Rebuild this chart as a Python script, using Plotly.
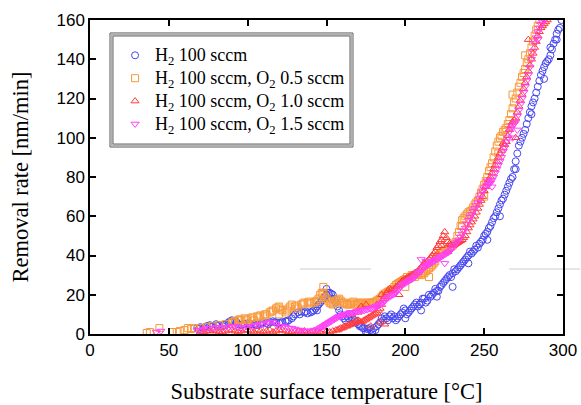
import plotly.graph_objects as go

# ---- data ----
blue_x = [68, 70, 72, 74, 76, 78, 80, 82, 84, 86, 88, 90, 92, 94, 96, 98, 100, 102, 104, 106, 108,
          110, 112, 114, 116, 118, 120, 122, 124, 126, 128, 130, 132, 134, 136, 138, 140, 142, 144,
          146, 148, 150, 152, 154, 156, 158, 160, 162, 164, 166, 168, 170, 172, 174, 176, 178, 180,
          182, 184, 186, 188, 190, 192, 194, 196, 198, 200, 202, 204, 206, 208, 210, 212, 214, 216,
          218, 220, 222, 224, 226, 228, 230, 232, 234, 236, 238, 240, 242, 244, 246, 248, 250, 252,
          254, 256, 258, 260, 262, 264, 266, 268, 270, 272, 274, 276, 278, 280, 282, 284, 286, 288,
          290, 292, 294, 296, 298, 299,
          176, 179, 230, 240, 252, 260, 270, 280, 288, 292, 296, 165, 150, 153, 144, 210, 200, 220,
          69, 73, 77, 81, 85, 89, 93, 97, 101, 105, 109, 113, 117, 121, 125, 129, 133, 137, 141,
          143, 145, 147, 149, 151, 153, 155, 157, 159,
          161, 163, 167, 169, 171, 173, 175, 177, 181, 183, 185, 187, 189, 191, 193, 195, 197, 199,
          201, 203, 205, 207, 209, 211, 213, 215, 217, 219, 221, 223, 225, 227, 229, 231, 233, 235,
          237, 239, 241, 243, 245, 247, 249, 251, 253, 255, 257, 259, 261, 263, 265, 267, 269, 271,
          273, 275, 277, 279, 281, 283, 285, 287, 289, 291, 293, 295, 297]
blue_y = [3, 3.5, 3, 4, 4.5, 4, 5, 4.5, 4, 5, 6, 7, 6.5, 5, 4.5, 5, 5.5, 5, 5, 4.5, 5,
          6, 5.5, 6, 6.5, 6, 5.5, 6, 6.5, 7, 8, 10, 11, 11.5, 11, 10.5, 11, 12, 14,
          16, 18, 20, 21, 20, 16, 12, 9, 7, 8, 8.5, 7, 5, 4, 3, 2.5, 2, 3,
          4, 6, 7, 8, 9, 8, 7, 9, 11, 12, 11, 13, 15, 14, 16, 18, 17, 19,
          21, 22, 24, 26, 28, 30, 31, 32, 34, 36, 38, 40, 41, 43, 44, 47, 50, 52,
          55, 59, 62, 66, 69, 73, 77, 80, 88, 96, 100, 104, 110, 116, 120, 126, 132, 136,
          139, 142, 148, 153, 156, 160,
          0.5, 1, 24, 36, 48, 60, 84, 112, 130, 146, 150, 10, 23, 18, 12, 12, 8, 19,
          2.5, 3.5, 3.5, 4, 4.5, 6.5, 6, 5, 5, 4.5, 5.5, 5, 6, 6, 6.5, 9, 10, 11.5, 11.5,
          13, 15, 17, 19, 21, 20.5, 18, 14, 10,
          8, 9, 6, 6, 4, 3, 1, 3, 2, 5, 8, 9, 7, 10, 9, 8, 10, 13,
          10, 12, 14, 16, 15, 18, 16, 20, 20, 23, 22, 25, 27, 29, 29, 33, 33, 35,
          37, 39, 42, 42, 45, 46, 48, 51, 54, 57, 60, 64, 68, 71, 75, 79, 84, 92,
          98, 102, 107, 113, 118, 123, 129, 134, 138, 140, 145, 150, 155]

orange_x = [36, 38, 44, 52, 55, 57, 60, 62, 64, 66, 70, 74, 78, 82, 86, 90, 92, 94, 96, 98, 100,
            102, 104, 106, 108, 110, 112, 114, 116, 118, 120, 122, 124, 126, 128, 130, 132, 134,
            136, 138, 140, 142, 144, 146, 148, 150, 152, 154, 156, 158, 160, 162, 164, 166, 168,
            170, 172, 174, 176, 178, 180, 182, 184, 186, 188, 190, 192, 194, 196, 198, 200, 202,
            204, 206, 208, 210, 212, 214, 216, 218, 220, 222, 224, 226, 228, 230, 232, 234, 236,
            238, 240, 242, 244, 246, 248, 250, 252, 254, 256, 258, 260, 262, 264, 266, 268, 270,
            272, 274, 276, 278, 280, 282, 284, 285,
            148, 120, 200, 215, 236, 250, 259, 268, 276,
            91, 95, 99, 103, 107, 111, 115, 119, 121, 125, 127, 131, 135, 139, 143, 145, 147, 149,
            151, 153, 155, 157, 159, 161, 163, 165, 167, 169, 171, 173, 175, 177, 179, 181, 183,
            185, 187, 189, 191, 193, 195, 197, 199, 201, 203, 205, 207, 209, 211, 213, 215, 217,
            219, 221, 223, 225, 227, 229, 231, 233, 235, 237, 239, 241, 243, 245, 247, 249, 251,
            253, 255, 257, 259, 261, 263, 265, 267, 269, 271, 273, 275, 277, 279, 281, 283]
orange_y = [0.5, 1, 3, 1, 1, 1.5, 2, 3, 2.5, 3, 3, 3.5, 4, 4.5, 5, 6, 6.5, 7, 7, 8, 7.5,
            8, 7, 9, 9.5, 9, 10, 11, 12, 13, 14, 12, 11, 13, 15, 14, 13, 15,
            16, 16, 15.5, 16, 17, 20, 21, 18, 16, 15, 17, 18, 16, 15.5, 15, 16, 15,
            15.5, 16, 15, 16, 15.5, 16, 17, 18, 20, 21, 22, 23, 25, 26, 27, 28, 28,
            30, 29, 31, 30, 31, 33, 34, 36, 39, 41, 42, 43, 44, 45, 47, 52, 58,
            60, 62, 63, 66, 68, 72, 76, 80, 85, 90, 96, 100, 103, 105, 109, 115, 120,
            126, 131, 135, 140, 146, 152, 157, 160,
            24, 10, 24, 29, 55, 70, 92, 122, 142,
            6, 7.5, 7, 8.5, 8.5, 10, 11.5, 13.5, 12.5, 12, 14, 14.5, 15.5, 16.5, 16.5, 18, 21, 19,
            17, 15.5, 16, 17.5, 17, 16, 15, 15.5, 16.5, 15, 16, 15.5, 15.5, 16, 16, 16.5, 17.5,
            19, 20.5, 21.5, 22.5, 24, 25.5, 26.5, 27.5, 29, 29, 30, 30, 30.5, 31, 32, 33.5, 35,
            37, 40, 41.5, 42.5, 43.5, 44.5, 46, 50, 55, 59, 61, 62.5, 64.5, 67, 70, 74, 78,
            83, 87, 93, 98, 101, 104, 107, 112, 118, 123, 128, 133, 138, 143, 149, 155]

red_x = [70, 74, 78, 82, 86, 90, 94, 98, 102, 106, 110, 114, 118, 122, 126, 130, 134, 138, 142,
         146, 148, 150, 152, 154, 156, 158, 160, 162, 164, 166, 168, 170, 172, 174, 176, 178, 180,
         182, 184, 186, 188, 190, 192, 194, 196, 198, 200, 202, 204, 206, 208, 210, 212, 214, 216,
         218, 220, 222, 224, 225, 226, 228, 230, 232, 234, 236, 238, 240, 242, 244, 246, 248, 250,
         252, 254, 256, 258, 260, 262, 264, 266, 268, 270, 272, 274, 276, 278, 280, 282, 284, 286,
         288, 290,
         172, 175, 182, 185, 166, 170, 178, 184, 187, 196, 223, 227, 262, 270, 278,
         72, 76, 80, 84, 88, 92, 96, 100, 104, 108, 112, 116, 120, 124, 128, 132, 136, 140, 144,
         157, 159, 161, 163, 165, 167, 169, 171, 173, 175, 177, 179, 181, 183, 185, 187, 189, 191,
         193, 195, 197, 199, 201, 203, 205, 207, 209, 211, 213, 215, 217, 219, 221, 223, 227, 229,
         231, 233, 235, 237, 239, 241, 243, 245, 247, 249, 251, 253, 255, 257, 259, 261, 263, 265,
         267, 269, 271, 273, 275, 277, 279, 281, 283, 285, 287, 289]
red_y = [1, 1.5, 2, 1, 1.5, 2, 1, 2, 1.5, 2, 1, 2, 1.5, 2, 1, 1.5, 1, 1, 1.5,
         1, 2, 1.5, 1, 1.5, 2, 2.5, 3, 4, 4.5, 5, 6, 7, 6, 7, 8, 9, 10,
         11, 13, 18, 21, 23, 22, 24, 25, 27, 28, 29, 30, 31, 32, 34, 36, 37, 39,
         41, 44, 47, 50, 52, 49, 46, 45, 46, 47, 48, 50, 54, 57, 60, 64, 68, 73,
         77, 80, 84, 88, 92, 95, 98, 104, 108, 110, 116, 122, 128, 134, 140, 146, 152, 156,
         158, 160,
         14, 15, 15, 20, 10, 11, 4, 6, 5, 20, 45, 42, 97, 100, 150,
         1, 1.5, 1.5, 1, 2, 1.5, 1.5, 2, 1, 1.5, 1.5, 1, 2, 1.5, 1, 1.5, 1.5, 1, 1,
         2, 3, 3.5, 4, 5, 5.5, 6.5, 6.5, 6.5, 7.5, 8.5, 9.5, 10.5, 12, 15, 19, 22, 22.5,
         23, 24.5, 26, 27.5, 28.5, 29.5, 30.5, 31.5, 33, 35, 36.5, 38, 40, 42, 45, 48, 47, 45.5,
         45.5, 46.5, 47.5, 49, 52, 55.5, 58.5, 62, 66, 70, 75, 78.5, 82, 86, 90, 93.5, 96.5, 101,
         106, 109, 113, 119, 125, 131, 137, 143, 149, 154, 157, 159]

magenta_x = [42, 45, 68, 72, 76, 80, 84, 88, 92, 96, 100, 104, 108, 112, 116, 118, 120, 124, 128,
             132, 136, 140, 144, 146, 148, 150, 152, 154, 156, 158, 160, 162, 164, 166, 168, 170,
             172, 174, 176, 178, 180, 182, 184, 186, 188, 190, 192, 194, 196, 198, 200, 202, 204,
             206, 208, 210, 212, 214, 216, 218, 220, 222, 224, 226, 228, 230, 232, 234, 236, 238,
             240, 242, 244, 246, 248, 250, 252, 254, 256, 258, 260, 262, 264, 266, 268, 270, 272,
             274, 276, 278, 280, 282, 284, 286, 288,
             210, 213, 225, 252, 255, 268, 271, 284,
             70, 74, 78, 82, 86, 90, 94, 98, 102, 106, 110, 114, 122, 126, 130, 134, 138, 142, 145,
             147, 149, 151, 153, 155, 157, 159, 161, 163, 165, 167, 169, 171, 173, 175, 177, 179,
             181, 183, 185, 187, 189, 191, 193, 195, 197, 199, 201, 203, 205, 207, 209, 211, 213,
             215, 217, 219, 221, 223, 225, 227, 229, 231, 233, 235, 237, 239, 241, 243, 245, 247,
             249, 251, 253, 255, 257, 259, 261, 263, 265, 267, 269, 271, 273, 275, 277, 279, 281,
             283, 285, 287]
magenta_y = [1, 1.5, 2, 2.5, 3, 3.5, 3, 3.5, 4, 3, 3.5, 4, 5, 5.5, 6, 5, 4, 3.5, 3,
             2, 1.5, 1.5, 2, 3, 4, 5, 6, 7, 8, 9, 9.5, 10, 10.5, 11, 11, 11.5,
             12, 12, 12.5, 13, 13.5, 14, 15, 16, 18, 19, 20, 21, 23, 25, 26, 27, 28,
             29, 31, 32, 34, 35, 36, 37, 38, 39, 40, 41, 42, 44, 46, 48, 51, 54,
             58, 61, 64, 67, 71, 74, 76, 77, 80, 84, 88, 93, 98, 103, 106, 108, 114,
             120, 126, 132, 140, 148, 154, 158, 160,
             38, 37, 36, 78, 75, 100, 104, 150,
             2, 3, 3, 3.5, 3.5, 4, 3.5, 3.5, 4, 4.5, 5, 6, 4, 3, 2.5, 2, 1.5, 2, 2.5,
             3.5, 4.5, 5.5, 6.5, 7.5, 8.5, 9, 10, 10, 11, 11, 11.5, 12, 12, 12.5, 13, 13,
             14, 14.5, 15.5, 17, 18.5, 19.5, 20.5, 22, 24, 25.5, 26.5, 27.5, 28.5, 30, 31.5, 33, 34.5,
             35.5, 36.5, 37.5, 38.5, 39.5, 40.5, 41.5, 43, 45, 47, 49.5, 52.5, 56, 59.5, 62.5, 65.5, 69,
             72.5, 75, 76.5, 78.5, 82, 86, 90, 95, 100, 105, 107, 111, 117, 123, 129, 136, 144,
             151, 156, 159]

x_ticks = [0, 50, 100, 150, 200, 250, 300]
y_ticks = [0, 20, 40, 60, 80, 100, 120, 140, 160]

series = [
    ("H<sub>2</sub> 100 sccm", blue_x, blue_y, "#4646f0", "circle-open"),
    ("H<sub>2</sub> 100 sccm, O<sub>2</sub> 0.5 sccm", orange_x, orange_y, "#f8983a", "square-open"),
    ("H<sub>2</sub> 100 sccm, O<sub>2</sub> 1.0 sccm", red_x, red_y, "#ff3a3a", "triangle-up-open"),
    ("H<sub>2</sub> 100 sccm, O<sub>2</sub> 1.5 sccm", magenta_x, magenta_y, "#ff40f8", "triangle-down-open"),
]

fig = go.Figure()
for name, xs, ys, col, sym in series:
    fig.add_trace(go.Scatter(
        x=xs, y=ys, mode="markers",
        name='<span style="font-size:18px">' + name + "</span>",
        marker=dict(symbol=sym, size=7, color=col, line=dict(color=col, width=1)),
    ))

axis_common = dict(
    showline=True, linecolor="black", linewidth=1.5, mirror="ticks",
    ticks="inside", ticklen=6, tickwidth=1.5, tickcolor="black",
    showgrid=False, zeroline=False, automargin=False,
    tickfont=dict(family="Liberation Sans, Arial, sans-serif", size=17, color="black"),
)

serif = "Liberation Serif, Times New Roman, serif"
fig.update_xaxes(range=[0, 300], tickvals=x_ticks,
                 title=dict(text="Substrate surface temperature [°C]",
                            font=dict(family=serif, size=22.5, color="black"),
                            standoff=24),
                 **axis_common)
fig.update_yaxes(range=[0, 160], tickvals=y_ticks,
                 title=dict(text="Removal rate [nm/min]",
                            font=dict(family=serif, size=22.5, color="black"),
                            standoff=22),
                 **axis_common)

# legend frame (groove-style double border) in paper coordinates
lx0, lx1, ly0, ly1 = 0.0423, 0.556, 0.5955, 0.9586
px_x, px_y = 1 / 473, 1 / 314
frame = [
    dict(type="rect", xref="paper", yref="paper", x0=lx0, x1=lx1, y0=ly0, y1=ly1,
         fillcolor="white", line=dict(color="#555555", width=1), layer="above"),
    dict(type="rect", xref="paper", yref="paper",
         x0=lx0 + 1.5 * px_x, x1=lx1 - 1.5 * px_x, y0=ly0 + 1.5 * px_y, y1=ly1 - 1.5 * px_y,
         line=dict(color="#b0b0b0", width=2), layer="above"),
    dict(type="rect", xref="paper", yref="paper",
         x0=lx0 + 3 * px_x, x1=lx1 - 3 * px_x, y0=ly0 + 3 * px_y, y1=ly1 - 3 * px_y,
         line=dict(color="#666666", width=1), layer="above"),
]

fig.update_layout(
    width=581, height=405,
    margin=dict(l=90, r=18, t=20, b=71),
    paper_bgcolor="white", plot_bgcolor="white",
    showlegend=True,
    legend=dict(
        x=0.053, y=0.940, xanchor="left", yanchor="top",
        bgcolor="rgba(0,0,0,0)", borderwidth=0,
        font=dict(family=serif, size=15.3, color="black"),
        itemsizing="trace", tracegroupgap=0,
    ),
    shapes=[
        dict(type="line", xref="paper", yref="paper", x0=0.444, x1=0.594, y0=0.207, y1=0.207,
             line=dict(color="#cccccc", width=1), layer="below"),
        dict(type="line", xref="paper", yref="paper", x0=0.886, x1=1.036, y0=0.207, y1=0.207,
             line=dict(color="#cccccc", width=1), layer="below"),
    ] + frame,
)

fig.write_html("out.html")
